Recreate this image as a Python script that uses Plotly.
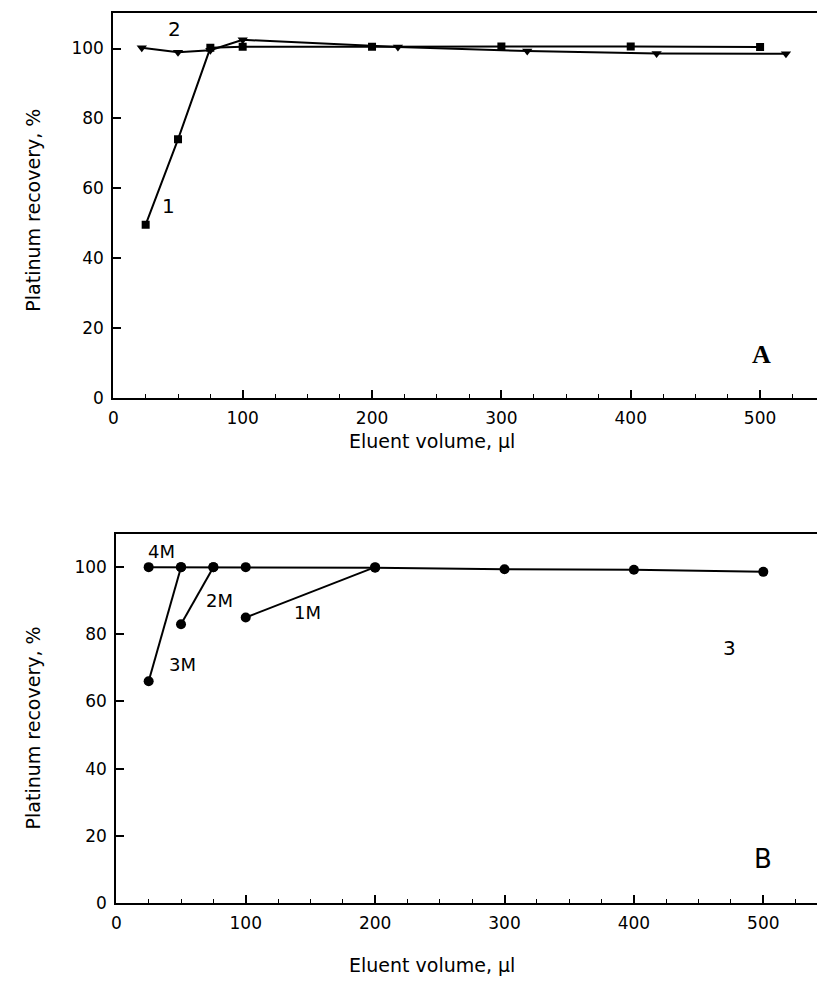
import plotly.graph_objects as go

# Panel A
a1_x = [25, 50, 75, 100, 200, 300, 400, 500]
a1_y = [49.6, 74, 100.2, 100.5, 100.5, 100.6, 100.6, 100.4]
a2_x = [22, 50, 75, 100, 220, 320, 420, 520]
a2_y = [100.2, 98.9, 99.5, 102.5, 100.4, 99.3, 98.6, 98.5]

# Panel B
b3_x = [25, 50, 75, 100, 200, 300, 400, 500]
b3_y = [100, 100, 100, 100, 99.8, 99.4, 99.2, 98.6]
b3m_x = [25, 50]
b3m_y = [66, 100]
b2m_x = [50, 75]
b2m_y = [83, 100]
b1m_x = [100, 200]
b1m_y = [85, 100]

x_ticks = [0, 100, 200, 300, 400, 500]
y_ticks = [0, 20, 40, 60, 80, 100]

FONT = "DejaVu Sans"
W, H = 817, 995

fig = go.Figure()
line = dict(color="black", width=2)

fig.add_trace(go.Scatter(x=a1_x, y=a1_y, mode="lines+markers", line=line,
                         marker=dict(symbol="square", size=8, color="black"),
                         xaxis="x", yaxis="y", showlegend=False))
fig.add_trace(go.Scatter(x=a2_x, y=a2_y, mode="lines+markers", line=line,
                         marker=dict(symbol="triangle-down", size=9, color="black"),
                         xaxis="x", yaxis="y", showlegend=False))

for xs, ys in [(b3_x, b3_y), (b3m_x, b3m_y), (b2m_x, b2m_y), (b1m_x, b1m_y)]:
    fig.add_trace(go.Scatter(x=xs, y=ys, mode="lines+markers", line=line,
                             marker=dict(symbol="circle", size=10, color="black"),
                             xaxis="x2", yaxis="y2", showlegend=False))

def xax(domain, rng, anchor):
    return dict(domain=domain, range=rng, anchor=anchor,
                tickvals=x_ticks, ticks="inside", ticklen=8, tickwidth=1.5,
                tickcolor="black",
                minor=dict(dtick=25, tick0=0, ticks="inside", ticklen=4,
                           tickwidth=1.2, tickcolor="black"),
                showline=True, linecolor="black", linewidth=2, mirror=True,
                showgrid=False, zeroline=False, ticklabelstandoff=4,
                tickfont=dict(family=FONT, size=17, color="black"))

def yax(domain, rng, anchor):
    return dict(domain=domain, range=rng, anchor=anchor,
                tickvals=y_ticks, ticks="inside", ticklen=8, tickwidth=1.5,
                tickcolor="black",
                showline=True, linecolor="black", linewidth=2, mirror=False,
                showgrid=False, zeroline=False, ticklabelstandoff=4,
                tickfont=dict(family=FONT, size=17, color="black"))

fig.update_layout(
    width=W, height=H,
    margin=dict(l=0, r=0, t=0, b=0),
    paper_bgcolor="white", plot_bgcolor="white",
    xaxis=xax([109 / W, 1], [0, 544], "y"),
    yaxis=yax([1 - 402 / H, 1 - 13 / H], [0, 110.2], "x"),
    xaxis2=xax([112 / W, 1], [0, 541.5], "y2"),
    yaxis2=yax([1 - 912 / H, 1 - 539 / H], [0, 110], "x2"),
)

def ann(x, y, text, xref, yref, size=18, family=FONT, bold=False, angle=0):
    fig.add_annotation(x=x, y=y, xref=xref, yref=yref,
                       text=f"<b>{text}</b>" if bold else text,
                       showarrow=False, textangle=angle,
                       xanchor="center", yanchor="middle",
                       font=dict(family=family, size=size, color="black"))

# axis titles (paper coordinates)
ann(430 / W, 1 - 445 / H, "Eluent volume, µl", "paper", "paper", 19)
ann(430 / W, 1 - 975 / H, "Eluent volume, µl", "paper", "paper", 19)
ann(28 / W, 1 - 212 / H, "Platinum recovery, %", "paper", "paper", 19, angle=-90)
ann(28 / W, 1 - 735 / H, "Platinum recovery, %", "paper", "paper", 19, angle=-90)

ann(43, 55, "1", "x", "y", 20)
ann(47, 105.5, "2", "x", "y", 20)
ann(501, 12.5, "A", "x", "y", 26, "Liberation Serif", True)

ann(35, 104.8, "4M", "x2", "y2", 18)
ann(80, 90, "2M", "x2", "y2", 18)
ann(148, 86.5, "1M", "x2", "y2", 18)
ann(51, 71, "3M", "x2", "y2", 18)
ann(474, 76, "3", "x2", "y2", 20)
ann(500, 13, "B", "x2", "y2", 26)

fig.write_html("out.html")
